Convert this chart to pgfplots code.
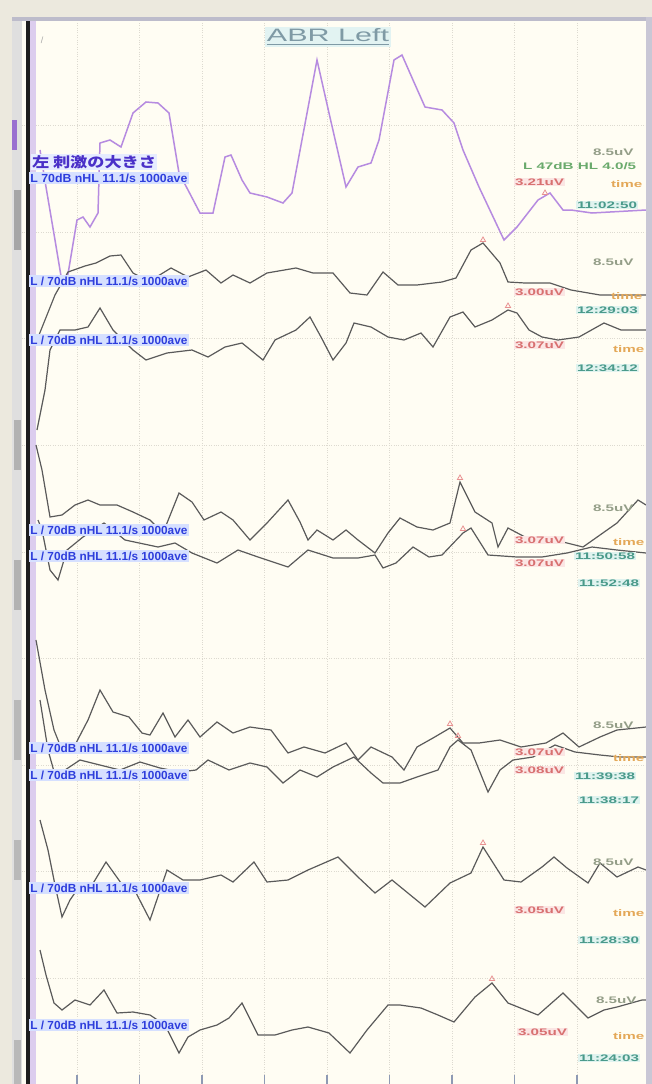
\documentclass[border=0pt]{standalone}
\usepackage{pgfplots}
\pgfplotsset{compat=1.18}
\usepackage{fontspec}
\setmainfont{Liberation Sans}
\newfontfamily\cjk{Noto Sans CJK JP}
\definecolor{bgc}{HTML}{FFFDF3}
\definecolor{outer}{HTML}{ECE9DE}
\definecolor{framec}{HTML}{BDBCCB}
\definecolor{framer}{HTML}{C9C7D5}
\definecolor{purp}{HTML}{B68BE0}
\definecolor{purpm}{HTML}{9A70D0}
\definecolor{lav}{HTML}{DCCDEE}
\definecolor{blk}{HTML}{1E1E1E}
\definecolor{jpc}{HTML}{4A30C8}
\definecolor{trc}{HTML}{5A5A5A}
\definecolor{gridc}{HTML}{DDDAD0}
\definecolor{tickc}{HTML}{8E9AB4}
\definecolor{lblbg}{HTML}{D6E0FF}
\definecolor{lbltx}{HTML}{2E3EDC}
\definecolor{redt}{HTML}{D87070}
\definecolor{redbg}{HTML}{FBE6E4}
\definecolor{orat}{HTML}{E4A858}
\definecolor{tealt}{HTML}{4A9A8A}
\definecolor{tealbg}{HTML}{E0F3EF}
\definecolor{grayt}{HTML}{949E88}
\definecolor{greent}{HTML}{6AAA6C}
\definecolor{titlec}{HTML}{7F9AA5}
\definecolor{titlebg}{HTML}{E2F3F2}
\definecolor{pkm}{HTML}{E89090}
\newcommand{\hs}[1]{\scalebox{1.6}[1]{#1}}
\newcommand{\lb}[1]{\resizebox{157pt}{8.5pt}{\bfseries #1}}
\begin{document}
\begin{tikzpicture}[x=1pt,y=1pt]
\fill[outer] (0,0) rectangle (652,1084);
\begin{axis}[at={(12pt,0pt)}, anchor=south west, scale only axis,
  width=634pt, height=1066pt,
  xmin=12, xmax=646, ymin=18, ymax=1084, y dir=reverse,
  axis background/.style={fill=bgc},
  axis line style={draw=none},
  xtick={77,139.5,202,264.5,327,389.5,452,514.5,577}, xticklabels={},
  xtick pos=left, tick align=inside, major tick length=9pt,
  xtick style={color=tickc, line width=1.2pt},
  ytick={125,232,338,445,552,658,765,871,978}, yticklabels={},
  ytick style={draw=none},
  grid=major, grid style={dotted, color=gridc, line width=0.7pt},
  clip=false]
% left strip decorations
\fill[gray!25] (axis cs:12,18) rectangle (axis cs:22,1084);
\fill[gray!70] (axis cs:14,190) rectangle (axis cs:21,250);
\fill[gray!60] (axis cs:14,420) rectangle (axis cs:21,470);
\fill[gray!60] (axis cs:14,560) rectangle (axis cs:21,610);
\fill[gray!55] (axis cs:14,700) rectangle (axis cs:21,760);
\fill[gray!55] (axis cs:14,840) rectangle (axis cs:21,880);
\fill[gray!55] (axis cs:14,1040) rectangle (axis cs:21,1084);
\fill[purpm] (axis cs:12,120) rectangle (axis cs:17,150);
\fill[lav] (axis cs:30,18) rectangle (axis cs:36,1084);
\draw[blk, line width=3.5pt] (axis cs:28,18) -- (axis cs:28,1084);
% traces
\addplot[purp, line width=1.5pt] coordinates {(40,150)(46,187)(55,240)(62,282)(67,280)(77,220)(83,217)(90,227)(98,213)(100,143)(110,140)(121,147)(133,113)(146,102)(158,103)(169,113)(179,173)(188,190)(200,213)(213,213)(225,157)(231,155)(242,180)(250,193)(267,197)(283,203)(292,193)(317,60)(329,113)(346,187)(358,167)(371,163)(379,140)(394,60)(402,55)(413,80)(425,107)(442,110)(454,123)(463,150)(479,187)(504,240)(517,227)(538,200)(550,193)(563,210)(571,210)(592,213)(646,210)};
\addplot[trc, line width=1.2pt] coordinates {(35,345)(45,320)(55,295)(68,272)(85,266)(96,263)(110,256)(121,255)(133,273)(146,280)(158,276)(171,268)(188,277)(206,270)(221,283)(233,275)(250,283)(267,273)(296,268)(313,273)(333,273)(350,293)(367,295)(383,272)(398,285)(417,285)(442,282)(456,278)(471,250)(483,243)(500,263)(508,282)(525,283)(550,283)(571,290)(600,295)(646,295)};
\addplot[trc, line width=1.2pt] coordinates {(37,430)(45,390)(50,350)(60,330)(75,330)(88,327)(100,308)(113,330)(133,350)(146,360)(167,353)(192,350)(208,357)(225,347)(242,343)(263,360)(275,340)(296,330)(310,317)(321,337)(333,360)(346,343)(354,323)(371,327)(388,337)(404,340)(421,333)(433,347)(450,317)(463,312)(475,327)(492,320)(508,310)(517,313)(529,330)(542,337)(558,340)(579,337)(604,323)(621,330)(646,330)};
\addplot[trc, line width=1.2pt] coordinates {(36,445)(42,470)(50,517)(62,515)(75,505)(88,500)(100,505)(117,505)(133,512)(150,520)(163,533)(179,493)(192,502)(204,520)(221,512)(233,520)(250,540)(267,523)(288,500)(300,522)(308,540)(317,530)(333,540)(346,530)(358,540)(375,553)(388,533)(400,518)(417,527)(433,530)(450,523)(460,482)(475,512)(492,523)(498,547)(508,528)(525,537)(555,540)(583,547)(600,535)(617,523)(638,500)(646,505)};
\addplot[trc, line width=1.2pt] coordinates {(38,520)(42,530)(50,570)(58,580)(67,550)(83,537)(104,523)(125,540)(158,547)(175,543)(192,553)(217,563)(238,550)(258,557)(288,567)(308,550)(333,558)(358,558)(375,555)(383,568)(396,563)(413,547)(429,557)(442,555)(463,533)(471,528)(488,555)(517,557)(542,557)(567,553)(592,547)(617,550)(646,553)};
\addplot[trc, line width=1.2pt] coordinates {(36,640)(45,690)(54,730)(62,750)(75,745)(88,720)(100,690)(113,712)(129,717)(142,733)(150,735)(163,713)(175,737)(188,720)(200,737)(217,722)(233,733)(250,727)(271,730)(288,753)(304,747)(325,753)(346,743)(358,760)(371,747)(392,757)(404,770)(417,747)(433,738)(450,728)(463,743)(479,743)(500,740)(521,747)(546,743)(563,733)(579,747)(600,737)(617,730)(646,727)};
\addplot[trc, line width=1.2pt] coordinates {(40,700)(48,750)(55,775)(65,770)(80,760)(100,765)(120,770)(140,762)(160,768)(180,772)(196,770)(208,760)(229,770)(250,763)(267,767)(283,783)(300,770)(317,777)(333,767)(354,757)(371,773)(383,783)(400,783)(417,777)(438,770)(450,747)(458,740)(471,750)(488,792)(500,770)(513,760)(533,757)(555,745)(575,752)(600,755)(620,757)(646,757)};
\addplot[trc, line width=1.2pt] coordinates {(40,820)(48,850)(55,885)(62,917)(70,900)(79,887)(92,885)(106,862)(121,883)(133,887)(150,920)(167,870)(183,880)(200,880)(221,875)(233,882)(254,862)(267,882)(288,880)(308,870)(338,857)(358,877)(375,893)(392,880)(425,907)(450,883)(471,873)(483,847)(504,880)(521,882)(542,867)(554,857)(567,868)(588,883)(600,863)(617,877)(638,867)(646,870)};
\addplot[trc, line width=1.2pt] coordinates {(40,950)(46,975)(54,1003)(62,1010)(75,1000)(90,1005)(104,990)(117,1013)(133,1012)(150,1015)(165,1025)(179,1053)(188,1037)(200,1030)(217,1025)(229,1018)(242,1003)(258,1035)(275,1035)(292,1030)(308,1027)(329,1033)(350,1053)(367,1030)(388,1005)(400,1005)(421,1008)(438,1015)(454,1022)(475,997)(492,983)(508,1003)(538,1015)(563,993)(588,1018)(604,1010)(617,1007)(642,1000)(646,1000)};
% peak markers
\addplot[only marks, mark=triangle, mark size=3pt, pkm, line width=0.8pt] coordinates {(545,193)(483,240)(508,306)(460,478)(463,529)(450,724)(458,736)(483,843)(492,979)};
% title
\node[fill=titlebg, text=titlec, inner sep=1.5pt] at (axis cs:328,37) {\resizebox{122pt}{13pt}{\underline{ABR Left}}};
\node[text=gray!70, font=\fontsize{9}{9}\selectfont] at (axis cs:42,40) {/};
% left labels
\tikzset{lbl/.style={anchor=west, fill=lblbg, text=lbltx, inner sep=1.2pt}}
\node[anchor=west, fill=lblbg!60, text=jpc, inner sep=0.8pt] at (axis cs:31,162) {\resizebox{124pt}{12pt}{\cjk\bfseries 左 刺激の大きさ}};
\node[lbl] at (axis cs:29,178) {\lb{L 70dB nHL 11.1/s 1000ave}};
\node[lbl] at (axis cs:29,281) {\lb{L / 70dB nHL 11.1/s 1000ave}};
\node[lbl] at (axis cs:29,340) {\lb{L / 70dB nHL 11.1/s 1000ave}};
\node[lbl] at (axis cs:29,530) {\lb{L / 70dB nHL 11.1/s 1000ave}};
\node[lbl] at (axis cs:29,556) {\lb{L / 70dB nHL 11.1/s 1000ave}};
\node[lbl] at (axis cs:29,748) {\lb{L / 70dB nHL 11.1/s 1000ave}};
\node[lbl] at (axis cs:29,775) {\lb{L / 70dB nHL 11.1/s 1000ave}};
\node[lbl] at (axis cs:29,888) {\lb{L / 70dB nHL 11.1/s 1000ave}};
\node[lbl] at (axis cs:29,1025) {\lb{L / 70dB nHL 11.1/s 1000ave}};
% right labels
\tikzset{rt/.style={anchor=west, inner sep=0.8pt, font=\bfseries\fontsize{9.5}{10}\selectfont}}
\node[rt, text=grayt] at (axis cs:592,152) {\hs{8.5uV}};
\node[rt, text=greent] at (axis cs:522,166) {\hs{L 47dB HL 4.0/5}};
\node[rt, text=redt, fill=redbg] at (axis cs:514,182) {\hs{3.21uV}};
\node[rt, text=orat] at (axis cs:610,184) {\hs{time}};
\node[rt, text=tealt, fill=tealbg] at (axis cs:576,205) {\hs{11:02:50}};
\node[rt, text=grayt] at (axis cs:592,262) {\hs{8.5uV}};
\node[rt, text=redt, fill=redbg] at (axis cs:514,292) {\hs{3.00uV}};
\node[rt, text=orat] at (axis cs:610,296) {\hs{time}};
\node[rt, text=tealt, fill=tealbg] at (axis cs:576,310) {\hs{12:29:03}};
\node[rt, text=redt, fill=redbg] at (axis cs:514,345) {\hs{3.07uV}};
\node[rt, text=orat] at (axis cs:612,349) {\hs{time}};
\node[rt, text=tealt, fill=tealbg] at (axis cs:576,368) {\hs{12:34:12}};
\node[rt, text=grayt] at (axis cs:592,508) {\hs{8.5uV}};
\node[rt, text=redt, fill=redbg] at (axis cs:514,540) {\hs{3.07uV}};
\node[rt, text=orat] at (axis cs:612,542) {\hs{time}};
\node[rt, text=redt, fill=redbg] at (axis cs:514,563) {\hs{3.07uV}};
\node[rt, text=tealt, fill=tealbg] at (axis cs:574,556) {\hs{11:50:58}};
\node[rt, text=tealt, fill=tealbg] at (axis cs:578,583) {\hs{11:52:48}};
\node[rt, text=grayt] at (axis cs:592,725) {\hs{8.5uV}};
\node[rt, text=redt, fill=redbg] at (axis cs:514,752) {\hs{3.07uV}};
\node[rt, text=orat] at (axis cs:612,758) {\hs{time}};
\node[rt, text=redt, fill=redbg] at (axis cs:514,770) {\hs{3.08uV}};
\node[rt, text=tealt, fill=tealbg] at (axis cs:574,776) {\hs{11:39:38}};
\node[rt, text=tealt, fill=tealbg] at (axis cs:578,800) {\hs{11:38:17}};
\node[rt, text=grayt] at (axis cs:592,862) {\hs{8.5uV}};
\node[rt, text=redt, fill=redbg] at (axis cs:514,910) {\hs{3.05uV}};
\node[rt, text=orat] at (axis cs:612,913) {\hs{time}};
\node[rt, text=tealt, fill=tealbg] at (axis cs:578,940) {\hs{11:28:30}};
\node[rt, text=grayt] at (axis cs:595,1000) {\hs{8.5uV}};
\node[rt, text=redt, fill=redbg] at (axis cs:517,1032) {\hs{3.05uV}};
\node[rt, text=orat] at (axis cs:612,1036) {\hs{time}};
\node[rt, text=tealt, fill=tealbg] at (axis cs:578,1058) {\hs{11:24:03}};
\end{axis}
% frame
\fill[framec] (12,1063) rectangle (652,1067);
\fill[framer] (646,0) rectangle (652,1067);
\fill[outer] (0,1067) rectangle (652,1084);
\pgfresetboundingbox
\useasboundingbox (0,0) rectangle (652,1084);
\end{tikzpicture}
\end{document}
